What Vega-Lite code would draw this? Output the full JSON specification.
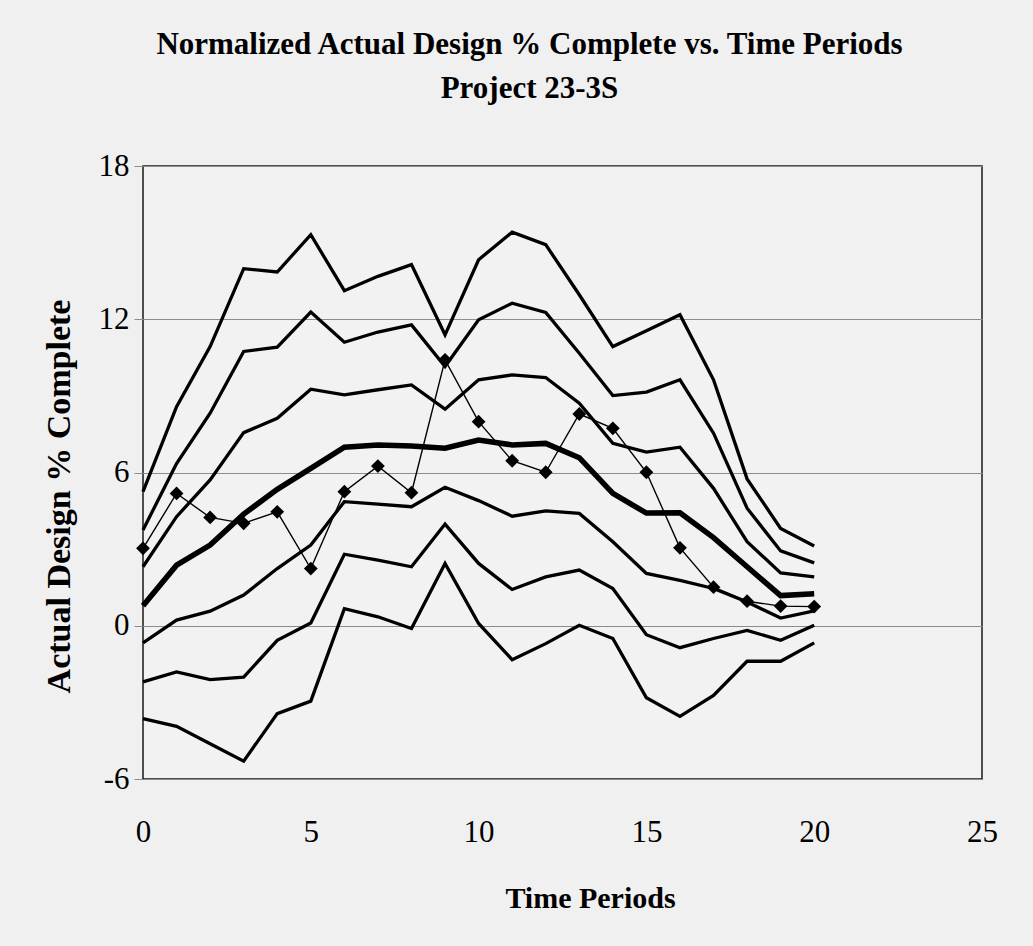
{
  "$schema": "https://vega.github.io/schema/vega-lite/v6.json",
  "width": 839,
  "height": 613,
  "autosize": {"type": "none"},
  "padding": {"left": 143, "top": 166, "right": 51, "bottom": 167},
  "background": "#f0f0f0",
  "config": {
    "view": {"stroke": "#1a1a1a", "strokeWidth": 1.5, "fill": "#f2f2f2"},
    "font": "Liberation Serif",
    "title": {"font": "Liberation Serif", "fontWeight": "bold", "fontSize": 31, "lineHeight": 44, "color": "#000000"},
    "axis": {"labelFont": "Liberation Serif", "titleFont": "Liberation Serif", "labelColor": "#000000", "titleColor": "#000000"}
  },
  "title": {
    "text": ["Normalized Actual Design % Complete vs. Time Periods", "Project 23-3S"],
    "anchor": "middle",
    "dx": -33,
    "offset": 45
  },
  "data": {
    "values": [
      {"t": 0, "s": "U3", "v": 5.25}, {"t": 1, "s": "U3", "v": 8.58}, {"t": 2, "s": "U3", "v": 10.93}, {"t": 3, "s": "U3", "v": 13.98}, {"t": 4, "s": "U3", "v": 13.85}, {"t": 5, "s": "U3", "v": 15.31}, {"t": 6, "s": "U3", "v": 13.12}, {"t": 7, "s": "U3", "v": 13.68}, {"t": 8, "s": "U3", "v": 14.14}, {"t": 9, "s": "U3", "v": 11.39}, {"t": 10, "s": "U3", "v": 14.33}, {"t": 11, "s": "U3", "v": 15.41}, {"t": 12, "s": "U3", "v": 14.92}, {"t": 13, "s": "U3", "v": 12.96}, {"t": 14, "s": "U3", "v": 10.93}, {"t": 15, "s": "U3", "v": 11.55}, {"t": 16, "s": "U3", "v": 12.18}, {"t": 17, "s": "U3", "v": 9.63}, {"t": 18, "s": "U3", "v": 5.75}, {"t": 19, "s": "U3", "v": 3.81}, {"t": 20, "s": "U3", "v": 3.12},
      {"t": 0, "s": "U2", "v": 3.75}, {"t": 1, "s": "U2", "v": 6.35}, {"t": 2, "s": "U2", "v": 8.32}, {"t": 3, "s": "U2", "v": 10.74}, {"t": 4, "s": "U2", "v": 10.91}, {"t": 5, "s": "U2", "v": 12.28}, {"t": 6, "s": "U2", "v": 11.1}, {"t": 7, "s": "U2", "v": 11.5}, {"t": 8, "s": "U2", "v": 11.78}, {"t": 9, "s": "U2", "v": 10.15}, {"t": 10, "s": "U2", "v": 11.98}, {"t": 11, "s": "U2", "v": 12.63}, {"t": 12, "s": "U2", "v": 12.27}, {"t": 13, "s": "U2", "v": 10.67}, {"t": 14, "s": "U2", "v": 9.01}, {"t": 15, "s": "U2", "v": 9.15}, {"t": 16, "s": "U2", "v": 9.63}, {"t": 17, "s": "U2", "v": 7.54}, {"t": 18, "s": "U2", "v": 4.6}, {"t": 19, "s": "U2", "v": 2.93}, {"t": 20, "s": "U2", "v": 2.46},
      {"t": 0, "s": "U1", "v": 2.31}, {"t": 1, "s": "U1", "v": 4.27}, {"t": 2, "s": "U1", "v": 5.71}, {"t": 3, "s": "U1", "v": 7.56}, {"t": 4, "s": "U1", "v": 8.12}, {"t": 5, "s": "U1", "v": 9.26}, {"t": 6, "s": "U1", "v": 9.04}, {"t": 7, "s": "U1", "v": 9.24}, {"t": 8, "s": "U1", "v": 9.43}, {"t": 9, "s": "U1", "v": 8.48}, {"t": 10, "s": "U1", "v": 9.63}, {"t": 11, "s": "U1", "v": 9.82}, {"t": 12, "s": "U1", "v": 9.72}, {"t": 13, "s": "U1", "v": 8.71}, {"t": 14, "s": "U1", "v": 7.14}, {"t": 15, "s": "U1", "v": 6.8}, {"t": 16, "s": "U1", "v": 6.99}, {"t": 17, "s": "U1", "v": 5.38}, {"t": 18, "s": "U1", "v": 3.29}, {"t": 19, "s": "U1", "v": 2.07}, {"t": 20, "s": "U1", "v": 1.91},
      {"t": 0, "s": "Mean", "v": 0.78}, {"t": 1, "s": "Mean", "v": 2.37}, {"t": 2, "s": "Mean", "v": 3.16}, {"t": 3, "s": "Mean", "v": 4.37}, {"t": 4, "s": "Mean", "v": 5.34}, {"t": 5, "s": "Mean", "v": 6.16}, {"t": 6, "s": "Mean", "v": 6.99}, {"t": 7, "s": "Mean", "v": 7.08}, {"t": 8, "s": "Mean", "v": 7.04}, {"t": 9, "s": "Mean", "v": 6.95}, {"t": 10, "s": "Mean", "v": 7.27}, {"t": 11, "s": "Mean", "v": 7.08}, {"t": 12, "s": "Mean", "v": 7.14}, {"t": 13, "s": "Mean", "v": 6.58}, {"t": 14, "s": "Mean", "v": 5.18}, {"t": 15, "s": "Mean", "v": 4.41}, {"t": 16, "s": "Mean", "v": 4.42}, {"t": 17, "s": "Mean", "v": 3.45}, {"t": 18, "s": "Mean", "v": 2.31}, {"t": 19, "s": "Mean", "v": 1.18}, {"t": 20, "s": "Mean", "v": 1.25},
      {"t": 0, "s": "L1", "v": -0.67}, {"t": 1, "s": "L1", "v": 0.22}, {"t": 2, "s": "L1", "v": 0.57}, {"t": 3, "s": "L1", "v": 1.2}, {"t": 4, "s": "L1", "v": 2.24}, {"t": 5, "s": "L1", "v": 3.16}, {"t": 6, "s": "L1", "v": 4.86}, {"t": 7, "s": "L1", "v": 4.76}, {"t": 8, "s": "L1", "v": 4.66}, {"t": 9, "s": "L1", "v": 5.42}, {"t": 10, "s": "L1", "v": 4.9}, {"t": 11, "s": "L1", "v": 4.29}, {"t": 12, "s": "L1", "v": 4.5}, {"t": 13, "s": "L1", "v": 4.4}, {"t": 14, "s": "L1", "v": 3.29}, {"t": 15, "s": "L1", "v": 2.05}, {"t": 16, "s": "L1", "v": 1.78}, {"t": 17, "s": "L1", "v": 1.46}, {"t": 18, "s": "L1", "v": 0.93}, {"t": 19, "s": "L1", "v": 0.3}, {"t": 20, "s": "L1", "v": 0.58},
      {"t": 0, "s": "L2", "v": -2.2}, {"t": 1, "s": "L2", "v": -1.81}, {"t": 2, "s": "L2", "v": -2.11}, {"t": 3, "s": "L2", "v": -2.01}, {"t": 4, "s": "L2", "v": -0.57}, {"t": 5, "s": "L2", "v": 0.11}, {"t": 6, "s": "L2", "v": 2.8}, {"t": 7, "s": "L2", "v": 2.57}, {"t": 8, "s": "L2", "v": 2.31}, {"t": 9, "s": "L2", "v": 3.98}, {"t": 10, "s": "L2", "v": 2.44}, {"t": 11, "s": "L2", "v": 1.42}, {"t": 12, "s": "L2", "v": 1.91}, {"t": 13, "s": "L2", "v": 2.18}, {"t": 14, "s": "L2", "v": 1.46}, {"t": 15, "s": "L2", "v": -0.35}, {"t": 16, "s": "L2", "v": -0.86}, {"t": 17, "s": "L2", "v": -0.5}, {"t": 18, "s": "L2", "v": -0.18}, {"t": 19, "s": "L2", "v": -0.57}, {"t": 20, "s": "L2", "v": 0.02},
      {"t": 0, "s": "L3", "v": -3.64}, {"t": 1, "s": "L3", "v": -3.94}, {"t": 2, "s": "L3", "v": -4.62}, {"t": 3, "s": "L3", "v": -5.3}, {"t": 4, "s": "L3", "v": -3.44}, {"t": 5, "s": "L3", "v": -2.95}, {"t": 6, "s": "L3", "v": 0.67}, {"t": 7, "s": "L3", "v": 0.35}, {"t": 8, "s": "L3", "v": -0.11}, {"t": 9, "s": "L3", "v": 2.44}, {"t": 10, "s": "L3", "v": 0.09}, {"t": 11, "s": "L3", "v": -1.33}, {"t": 12, "s": "L3", "v": -0.7}, {"t": 13, "s": "L3", "v": 0.02}, {"t": 14, "s": "L3", "v": -0.5}, {"t": 15, "s": "L3", "v": -2.82}, {"t": 16, "s": "L3", "v": -3.55}, {"t": 17, "s": "L3", "v": -2.73}, {"t": 18, "s": "L3", "v": -1.39}, {"t": 19, "s": "L3", "v": -1.39}, {"t": 20, "s": "L3", "v": -0.67},
      {"t": 0, "s": "Actual", "v": 3.03}, {"t": 1, "s": "Actual", "v": 5.18}, {"t": 2, "s": "Actual", "v": 4.24}, {"t": 3, "s": "Actual", "v": 4.01}, {"t": 4, "s": "Actual", "v": 4.46}, {"t": 5, "s": "Actual", "v": 2.24}, {"t": 6, "s": "Actual", "v": 5.25}, {"t": 7, "s": "Actual", "v": 6.25}, {"t": 8, "s": "Actual", "v": 5.21}, {"t": 9, "s": "Actual", "v": 10.41}, {"t": 10, "s": "Actual", "v": 7.99}, {"t": 11, "s": "Actual", "v": 6.46}, {"t": 12, "s": "Actual", "v": 6.01}, {"t": 13, "s": "Actual", "v": 8.29}, {"t": 14, "s": "Actual", "v": 7.73}, {"t": 15, "s": "Actual", "v": 6.01}, {"t": 16, "s": "Actual", "v": 3.05}, {"t": 17, "s": "Actual", "v": 1.51}, {"t": 18, "s": "Actual", "v": 0.96}, {"t": 19, "s": "Actual", "v": 0.77}, {"t": 20, "s": "Actual", "v": 0.75}
    ]
  },
  "encoding": {
    "x": {
      "field": "t", "type": "quantitative",
      "scale": {"domain": [0, 25], "nice": false},
      "axis": {
        "title": "Time Periods", "values": [0, 5, 10, 15, 20, 25], "grid": false, "ticks": false, "tickSize": 0, "domain": false,
        "labelFontSize": 31, "labelPadding": 38, "labelFlush": false,
        "titleFontSize": 30, "titleFontWeight": "bold", "titleX": 447, "titleY": 119, "titleBaseline": "middle"
      }
    },
    "y": {
      "field": "v", "type": "quantitative",
      "scale": {"domain": [-6, 18], "nice": false},
      "axis": {
        "title": "Actual Design % Complete", "values": [-6, 0, 6, 12, 18], "grid": true, "gridColor": "#8c8c8c", "gridWidth": 1,
        "domain": false, "ticks": true, "tickSize": 9, "tickColor": "#8c8c8c", "tickWidth": 1,
        "labelFontSize": 31, "labelPadding": 5, "labelFlush": false, "labelExpr": "'' + datum.value",
        "titleFontSize": 34, "titleFontWeight": "bold", "titleX": -84, "titleY": 330, "titleBaseline": "middle", "titleAngle": 270
      }
    }
  },
  "layer": [
    {
      "transform": [{"filter": "datum.s !== 'Mean' && datum.s !== 'Actual'"}],
      "mark": {"type": "line", "color": "#000000", "strokeWidth": 3.3, "strokeJoin": "miter"},
      "encoding": {"detail": {"field": "s"}}
    },
    {
      "transform": [{"filter": "datum.s === 'Mean'"}],
      "mark": {"type": "line", "color": "#000000", "strokeWidth": 5.5, "strokeJoin": "miter"}
    },
    {
      "transform": [{"filter": "datum.s === 'Actual'"}],
      "mark": {"type": "line", "color": "#000000", "strokeWidth": 1.4}
    },
    {
      "transform": [{"filter": "datum.s === 'Actual'"}],
      "mark": {"type": "point", "shape": "diamond", "filled": true, "color": "#000000", "size": 190, "opacity": 1}
    }
  ]
}
